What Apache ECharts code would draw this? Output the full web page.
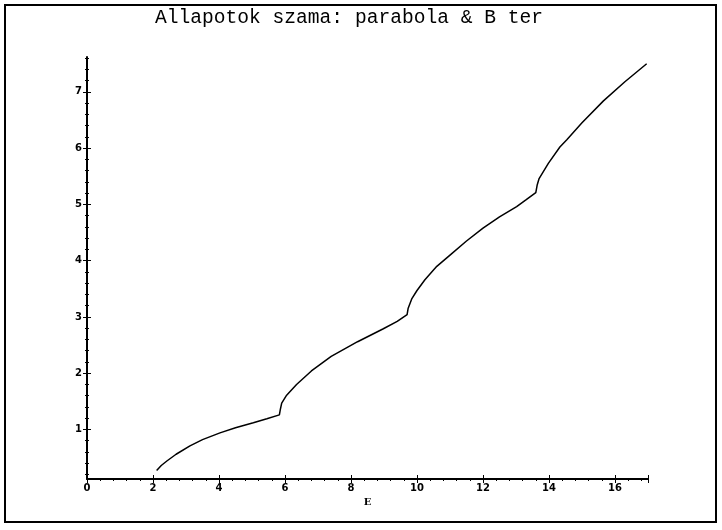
<!DOCTYPE html>
<html>
<head>
<meta charset="utf-8">
<script src="https://cdn.jsdelivr.net/npm/echarts@6/dist/echarts.min.js"></script>
<style>
  html, body { margin: 0; padding: 0; background: #fff; }
  #main { width: 722px; height: 530px; }
</style>
</head>
<body>
<div id="main"></div>
<script>
// energia (E) es allapotok szama, a kepről leolvasva
var energy = [2.11, 2.25, 2.42, 2.7, 3.12, 3.5, 4.03, 4.5, 5.04, 5.45, 5.83,
              5.86, 5.9, 6.05, 6.35, 6.8, 7.4, 8.2, 8.98, 9.4, 9.70,
              9.73, 9.84, 10.0, 10.24, 10.6, 11.0, 11.5, 12.0, 12.5, 13.02, 13.3, 13.60,
              13.64, 13.7, 13.98, 14.33, 14.54, 15.0, 15.65, 16.3, 16.96];
var states = [0.27, 0.36, 0.44, 0.56, 0.71, 0.82, 0.94, 1.03, 1.12, 1.19, 1.26,
              1.36, 1.47, 1.61, 1.80, 2.04, 2.30, 2.56, 2.79, 2.92, 3.04,
              3.15, 3.32, 3.47, 3.66, 3.90, 4.10, 4.35, 4.58, 4.78, 4.96, 5.08, 5.21,
              5.34, 5.46, 5.73, 6.02, 6.15, 6.45, 6.84, 7.18, 7.50];
var yMajor = [1, 2, 3, 4, 5, 6, 7];
var yMinor = [0.2, 0.4, 0.6, 0.8, 1.2, 1.4, 1.6, 1.8, 2.2, 2.4, 2.6, 2.8, 3.2, 3.4, 3.6, 3.8,
              4.2, 4.4, 4.6, 4.8, 5.2, 5.4, 5.6, 5.8, 6.2, 6.4, 6.6, 6.8, 7.2, 7.4, 7.6];
var titleText = 'Allapotok szama: parabola & B ter';
var xName = 'E';

var points = energy.map(function (e, i) { return [e, states[i]]; });

var myChart = echarts.init(document.getElementById('main'));

var labelStyle = {
    color: '#000',
    fontFamily: 'DejaVu Sans',
    fontWeight: 'bold',
    fontSize: 10
};
var yMin = 0.12, yMax = 7.62;

function yAx(ticks, len, inside, withLabels, withLine) {
    return {
        type: 'value',
        min: yMin,
        max: yMax,
        position: 'left',
        axisLine: { show: withLine, lineStyle: { color: '#000', width: 2 } },
        axisTick: { show: true, inside: inside, length: len, customValues: ticks, lineStyle: { color: '#000' } },
        axisLabel: withLabels
            ? Object.assign({ margin: 5, customValues: yMajor }, labelStyle)
            : { show: false },
        splitLine: { show: false }
    };
}

var option = {
    backgroundColor: '#fff',
    animation: false,
    title: {
        text: titleText,
        left: 150,
        top: 3,
        textStyle: {
            fontFamily: 'Liberation Mono',
            fontWeight: 'normal',
            fontSize: 19.6,
            color: '#000'
        }
    },
    graphic: [{
        type: 'rect',
        shape: { x: 5, y: 5, width: 711, height: 517 },
        style: { fill: 'none', stroke: '#000', lineWidth: 2 }
    }],
    grid: { left: 87, right: 74, top: 57, bottom: 51 },
    xAxis: [{
        type: 'value',
        min: 0,
        max: 17,
        interval: 2,
        name: xName,
        nameLocation: 'middle',
        nameGap: 18,
        nameTextStyle: { color: '#000', fontFamily: 'DejaVu Serif', fontWeight: 'bold', fontSize: 10 },
        axisLine: { lineStyle: { color: '#000', width: 2 } },
        axisTick: { length: 4, lineStyle: { color: '#000' } },
        minorTick: { show: true, splitNumber: 5, length: 2, lineStyle: { color: '#000' } },
        axisLabel: Object.assign({ margin: 4, showMaxLabel: false }, labelStyle),
        splitLine: { show: false }
    }, {
        type: 'value',
        min: 0,
        max: 17,
        interval: 2,
        position: 'bottom',
        axisLine: { show: false },
        axisTick: { inside: true, length: 4, lineStyle: { color: '#000' } },
        minorTick: { show: false },
        axisLabel: { show: false },
        splitLine: { show: false }
    }],
    yAxis: [
        yAx(yMinor, 2, false, true, true),
        yAx(yMajor, 4, false, false, false),
        yAx(yMajor, 4, true, false, false),
        yAx(yMinor, 2, true, false, false)
    ],
    series: [{
        type: 'line',
        data: points,
        showSymbol: false,
        smooth: false,
        lineStyle: { color: '#000', width: 1.5 }
    }]
};

myChart.setOption(option);
</script>
</body>
</html>
